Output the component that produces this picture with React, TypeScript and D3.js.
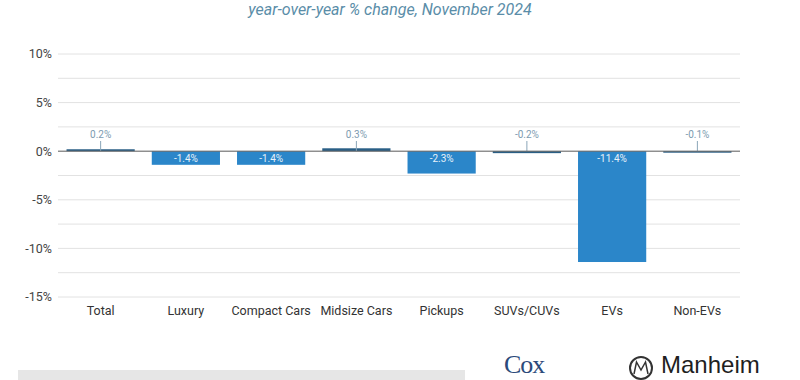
import React from "react";
import * as d3 from "d3";

const categories = ["Total", "Luxury", "Compact Cars", "Midsize Cars", "Pickups", "SUVs/CUVs", "EVs", "Non-EVs"];
const values = [0.2, -1.4, -1.4, 0.3, -2.3, -0.2, -11.4, -0.1];
const labels = ["0.2%", "-1.4%", "-1.4%", "0.3%", "-2.3%", "-0.2%", "-11.4%", "-0.1%"];
const yTicks = [10, 5, 0, -5, -10, -15];
const gridValues = [10, 7.5, 5, 2.5, 0, -2.5, -5, -7.5, -10, -12.5, -15];
const title = "year-over-year % change, November 2024";

export default function App() {
  const W = 800, H = 380;
  const x = d3.scaleBand<string>().domain(categories).range([58, 740]).paddingInner(0.2).paddingOuter(0.1);
  const y = d3.scaleLinear().domain([-15, 10]).range([297, 54]);
  const barColor = "#2b86c9";
  const zero = y(0);
  return (
    <svg width={W} height={H} style={{ position: "absolute", left: 0, top: 0, background: "#fff" }}
      fontFamily="Roboto, 'Noto Sans', sans-serif">
      <text x={390} y={15} textAnchor="middle" fontStyle="italic" fontSize={16} fill="#5a8da8">{title}</text>
      {gridValues.map((g) => (
        <line key={g} x1={58} x2={740} y1={y(g)} y2={y(g)} stroke="#e2e2e2" strokeWidth={1} />
      ))}
      {yTicks.map((t) => (
        <text key={t} x={52} y={y(t)} dy="0.35em" textAnchor="end" fontSize={12.5} fill="#444">{t}%</text>
      ))}
      {categories.map((c, i) => {
        const v = values[i];
        const bx = x(c)!;
        const bw = x.bandwidth();
        const top = Math.min(y(v), zero);
        const h = Math.max(Math.abs(y(v) - zero), 1.5);
        const small = Math.abs(v) < 1;
        const cx = bx + bw / 2;
        return (
          <g key={c}>
            <rect x={bx} y={v >= 0 ? zero - h : zero} width={bw} height={h}
              fill={small ? "#2a5f86" : barColor} />
            {small ? (
              <g>
                <line x1={cx} x2={cx} y1={141} y2={zero} stroke="#8aa5b8" strokeWidth={1} />
                <text x={cx} y={138} textAnchor="middle" fontSize={10} fill="#7d9bb0">{labels[i]}</text>
              </g>
            ) : (
              <text x={cx} y={top + 11} textAnchor="middle" fontSize={10} fill="#e8f2fa">{labels[i]}</text>
            )}
            <text x={cx} y={315} textAnchor="middle" fontSize={12.5} fill="#333">{c}</text>
          </g>
        );
      })}
      <line x1={58} x2={740} y1={zero} y2={zero} stroke="#666" strokeWidth={1} />
      <rect x={18} y={370} width={447} height={10} fill="#e6e6e6" />
      <text x={504} y={373} fontFamily="'Liberation Serif', serif" fontSize={26} fill="#2c4a7a" letterSpacing={-1}>Cox</text>
      <circle cx={641} cy={368} r={11} fill="none" stroke="#333" strokeWidth={2} />
      <path d="M634,374 L636.5,362 L641,370 L645.5,362 L648,374" fill="none" stroke="#333" strokeWidth={1.5} />
      <text x={661} y={373} fontSize={24} fill="#1f1f1f" fontFamily="'Liberation Sans', Arial, sans-serif">Manheim</text>
    </svg>
  );
}
